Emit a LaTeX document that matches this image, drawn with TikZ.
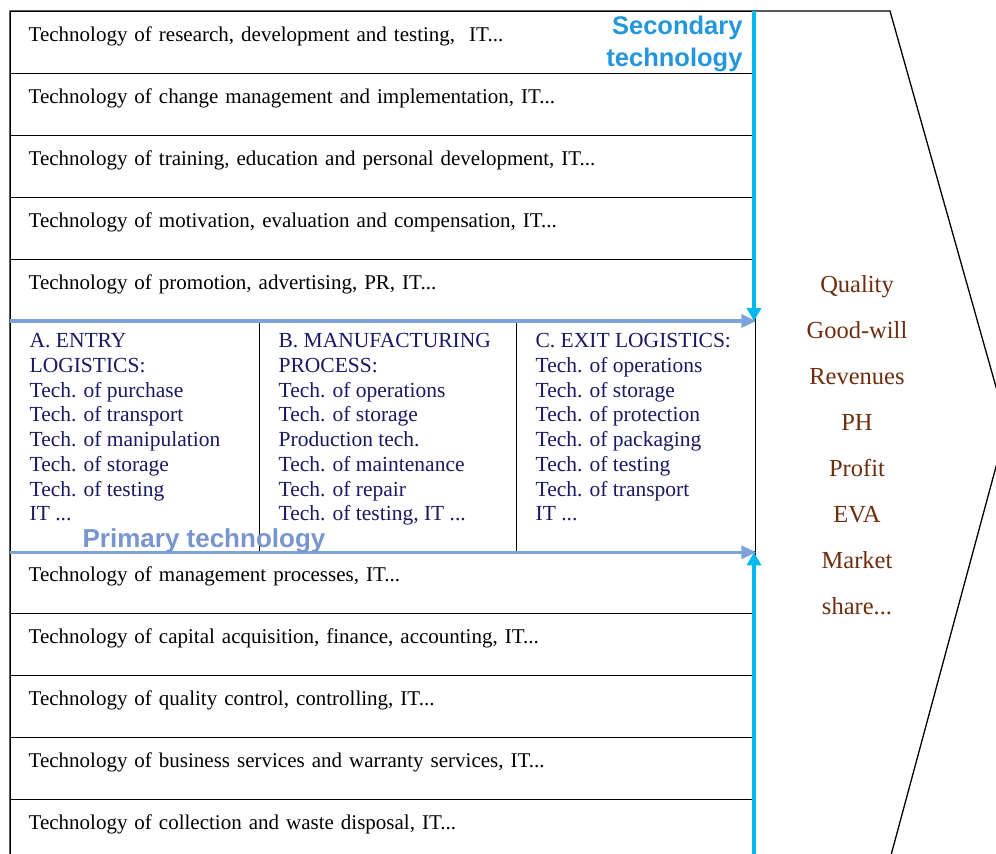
\documentclass[tikz,border=0pt]{standalone}
\usepackage{fontspec}
\setmainfont{Liberation Serif}
\newfontfamily\labelsans{Liberation Sans}
\usetikzlibrary{arrows.meta}

\definecolor{flowcyan}{RGB}{0,185,240}
\definecolor{flowsteel}{RGB}{125,163,218}
\definecolor{primlabel}{RGB}{120,150,205}
\definecolor{seclabel}{RGB}{35,150,220}
\definecolor{navytext}{RGB}{25,25,100}
\definecolor{resultbrown}{RGB}{110,45,15}

\begin{document}
\begin{tikzpicture}[x=1pt,y=-1pt,
  rowbox/.style={draw=black, line width=1.3pt, anchor=north west,
    minimum width=745pt, minimum height=62pt, inner xsep=18pt, inner ysep=0pt,
    text width=709pt, align=left, text height=14pt, text depth=16pt,
    font=\fontsize{21}{24}\selectfont},
  colbox/.style={draw=black, line width=1.3pt, anchor=north west,
    inner xsep=19pt, inner ysep=0pt, text=navytext,
    font=\fontsize{21.5}{24.7}\selectfont},
  frameline/.style={draw=black, line width=1.3pt},
  steelarrow/.style={draw=flowsteel, line width=3.5pt,
    -{Triangle[length=15pt,width=13pt]}},
  cyanarrow/.style={draw=flowcyan, line width=3.5pt,
    -{Triangle[length=13pt,width=14pt]}},
  resulttext/.style={text=resultbrown, align=center,
    font=\fontsize{24.5}{46}\selectfont},
]
% canvas
\useasboundingbox (0,0) rectangle (996,854);
\fill[white] (0,0) rectangle (996,854);
\clip (0,0) rectangle (996,854);

% secondary (support) technologies, upper band
\node[rowbox] (s1) at (10,11)  {Technology of research, development and testing,\ \ IT...};
\node[rowbox] (s2) at (10,73)  {Technology of change management and implementation, IT...};
\node[rowbox] (s3) at (10,135) {Technology of training, education and personal development, IT...};
\node[rowbox] (s4) at (10,197) {Technology of motivation, evaluation and compensation, IT...};
\node[rowbox] (s5) at (10,259) {Technology of promotion, advertising, PR, IT...};

% primary technologies
\newcommand{\colcontent}[2]{\parbox[c][230pt][t]{#1}{\raggedright\vspace*{12pt}#2}}
\node[colbox] (colA) at (10,321) {\colcontent{211pt}{A. ENTRY\\ LOGISTICS:\\ Tech. of purchase\\ Tech. of transport\\ Tech. of manipulation\\ Tech. of storage\\ Tech. of testing\\ IT ...}};
\node[colbox] (colB) at (259,321) {\colcontent{219pt}{B. MANUFACTURING\\ PROCESS:\\ Tech. of operations\\ Tech. of storage\\ Production tech.\\ Tech. of maintenance\\ Tech. of repair\\ Tech. of testing, IT ...}};
\node[colbox] (colC) at (516,321) {\colcontent{201pt}{C. EXIT LOGISTICS:\\ Tech. of operations\\ Tech. of storage\\ Tech. of protection\\ Tech. of packaging\\ Tech. of testing\\ Tech. of transport\\ IT ...}};

% secondary (support) technologies, lower band
\node[rowbox] (s6)  at (10,551) {Technology of management processes, IT...};
\node[rowbox] (s7)  at (10,613) {Technology of capital acquisition, finance, accounting, IT...};
\node[rowbox] (s8)  at (10,675) {Technology of quality control, controlling, IT...};
\node[rowbox] (s9)  at (10,737) {Technology of business services and warranty services, IT...};
\node[rowbox] (s10) at (10,799) {Technology of collection and waste disposal, IT...};

% outer chevron frame
\coordinate (ftl) at (10,11);
\coordinate (ftr) at (890,11);
\coordinate (tip) at (1007,426);
\coordinate (fbr) at (887,870);
\coordinate (fbl) at (10,870);
\draw[frameline] (fbl) -- (ftl) -- (ftr) -- (tip) -- (fbr);

% flow of the primary activities
\draw[steelarrow] (colA.north west) -- (colC.north east);
\draw[steelarrow] (colA.south west) -- (colC.south east);

% flow of the support activities
\coordinate (sectop) at (754,11);
\coordinate (secbot) at (754,870);
\draw[cyanarrow] (sectop) -- (sectop |- colC.north);
\draw[cyanarrow] (secbot) -- (secbot |- colC.south);

% band titles
\node[text=seclabel, align=right, anchor=east,
  font=\labelsans\bfseries\fontsize{25.5}{32}\selectfont] (sectitle) at (746,44) {Secondary\\ technology};
\node[text=primlabel, font=\labelsans\bfseries\fontsize{26}{30}\selectfont] (primtitle) at (204,541) {Primary technology};

% outcomes
\node[resulttext] (results) at (857,445) {Quality\\ Good-will\\ Revenues\\ PH\\ Profit\\ EVA\\ Market\\ share...};
\end{tikzpicture}
\end{document}
